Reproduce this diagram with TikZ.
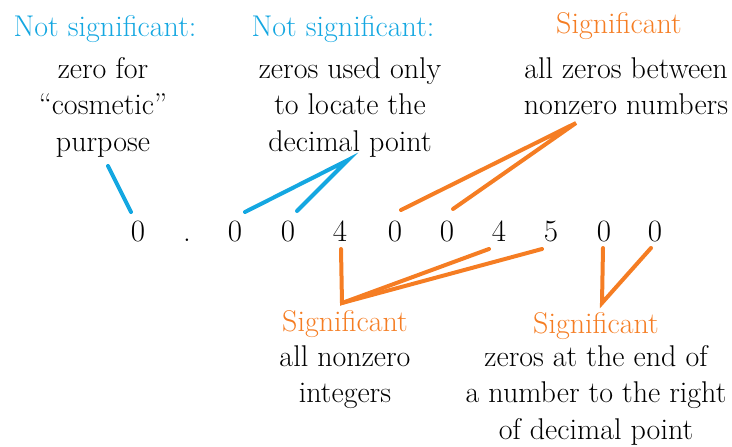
\documentclass[tikz,border=0pt]{standalone}
\definecolor{sigblue}{RGB}{20,167,225}
\definecolor{sigorange}{RGB}{245,125,35}
\begin{document}
\begin{tikzpicture}[x=1pt,y=-1pt,
  txt/.style={inner sep=0pt,align=center,font=\fontsize{30}{36.5}\selectfont},
  head/.style={txt,anchor=base},
  body/.style={txt,anchor=north},
  dig/.style={inner sep=0pt,anchor=base,font=\fontsize{31}{36}\selectfont},
  blink/.style={draw=sigblue,line width=4pt,line cap=round},
  olink/.style={draw=sigorange,line width=4pt,line cap=round}]
\useasboundingbox (0,0) rectangle (732,447);
% headings and bodies
\node[head,text=sigblue] (h1) at (105,37) {Not significant:};
\node[body] (b1) at (103,57) {zero for\\\textquotedblleft cosmetic\textquotedblright\\purpose};
\node[head,text=sigblue] (h2) at (343,37) {Not significant:};
\node[body] (b2) at (350,57) {zeros used only\\to locate the\\decimal point};
\node[head,text=sigorange] (h3) at (619,33) {Significant};
\node[body] (b3) at (626,57) {all zeros between\\nonzero numbers};
\node[head,text=sigorange] (h4) at (345,331) {Significant};
\node[body] (b4) at (345,345) {all nonzero\\integers};
\node[head,text=sigorange] (h5) at (596,333) {Significant};
\node[body] (b5) at (596,345) {zeros at the end of\\a number to the right\\of decimal point};
% digits
\foreach \n/\x/\t in {d1/138/0, dp/187/., d2/235/0, d3/288/0, d4/340/4, d5/395/0, d6/447/0, d7/499/4, d8/551/5, d9/604/0, d10/655/0}
  \node[dig] (\n) at (\x,241) {\t};
% connector points
\coordinate (c1) at (108,166);
\coordinate (c2) at (348,160);
\coordinate (c3) at (576,123);
\coordinate (c4) at (342,303);
\coordinate (c5) at (602,303);
\draw[blink] (c1) -- (131,212);
\draw[blink] (245,212) -- (c2) -- (297,211);
\draw[olink] (401,210) -- (c3) -- (453,209);
\draw[olink] (341,249) -- (c4) -- (489,249);
\draw[olink] (c4) -- (542,249);
\draw[olink] (603,248) -- (c5) -- (651,248);
\end{tikzpicture}
\end{document}
